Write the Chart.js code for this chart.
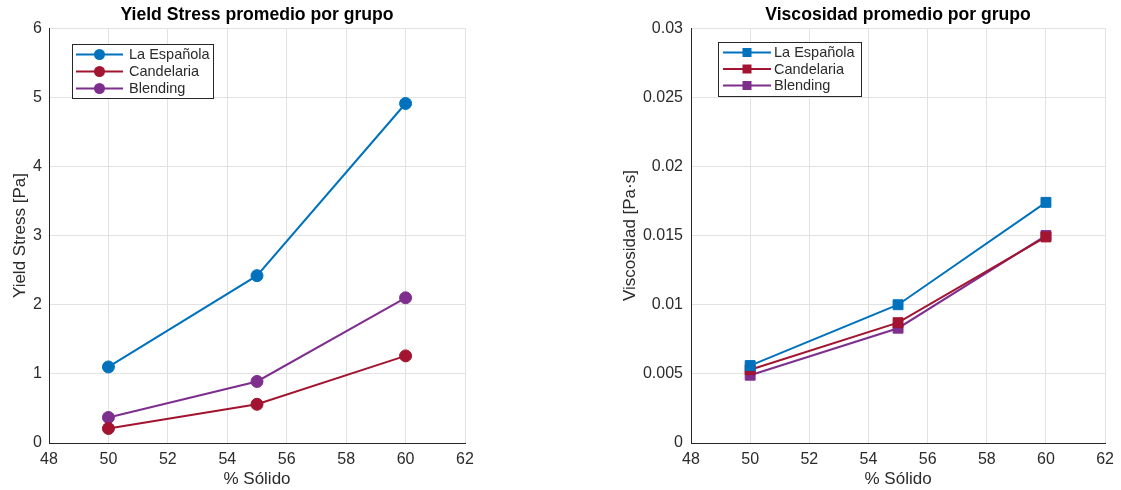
<!DOCTYPE html>
<html>
<head>
<meta charset="utf-8">
<script src="https://cdn.jsdelivr.net/npm/chart.js@4.4.0/dist/chart.umd.min.js"></script>
<style>
  body { margin: 0; background: #fff; width: 1121px; height: 490px; position: relative; overflow: hidden; }
  .panel { position: absolute; top: 0; height: 490px; }
  #panel-yield { left: 0; width: 560px; }
  #panel-visc { left: 600px; width: 521px; }
</style>
</head>
<body>
<div class="panel" id="panel-yield"><canvas id="yieldChart" width="560" height="490"></canvas></div>
<div class="panel" id="panel-visc"><canvas id="viscChart" width="521" height="490"></canvas></div>
<script>
// % sólido de cada ensayo
const solidos = [50, 55, 60];
const grupos = ['La Española', 'Candelaria', 'Blending'];
const colores = ['#0072BD', '#A2142F', '#7E2F8E'];

// yield stress promedio [Pa]
const yieldEspanola = [1.10, 2.42, 4.91];
const yieldCandelaria = [0.21, 0.56, 1.26];
const yieldBlending = [0.37, 0.89, 2.10];

// viscosidad promedio [Pa·s]
const viscEspanola = [0.0056, 0.0100, 0.0174];
const viscCandelaria = [0.0053, 0.0087, 0.0149];
const viscBlending = [0.0049, 0.0083, 0.0150];

const xTicks = ['48', '50', '52', '54', '56', '58', '60', '62'];
const yTicksYield = ['0', '1', '2', '3', '4', '5', '6'];
const yTicksVisc = ['0', '0.005', '0.01', '0.015', '0.02', '0.025', '0.03'];

const FONT = "'Liberation Sans', Arial, sans-serif";
const TXT = '#2b2b2b';

// leyenda tipo matlab, dentro del area de la grafica
const leyendaBox = {
  id: 'leyendaBox',
  afterDraw(chart, args, o) {
    const { ctx, chartArea } = chart;
    const x0 = Math.round(chartArea.left + o.dx), y0 = Math.round(chartArea.top + o.dy);
    ctx.save();
    ctx.fillStyle = '#fff';
    ctx.fillRect(x0, y0, o.w, o.h);
    ctx.strokeStyle = '#262626';
    ctx.lineWidth = 1;
    ctx.strokeRect(x0 + 0.5, y0 + 0.5, o.w, o.h);
    ctx.font = '14.5px ' + FONT;
    ctx.textBaseline = 'middle';
    chart.data.datasets.forEach((ds, i) => {
      const cy = y0 + o.first + i * o.row;
      ctx.strokeStyle = ds.borderColor;
      ctx.lineWidth = 2;
      ctx.beginPath();
      ctx.moveTo(x0 + o.lineStart, cy);
      ctx.lineTo(x0 + o.lineEnd, cy);
      ctx.stroke();
      const mx = x0 + o.marker;
      ctx.fillStyle = ds.backgroundColor;
      if (ds.pointStyle === 'rect') {
        ctx.fillRect(mx - o.size, cy - o.size, o.size * 2, o.size * 2);
      } else {
        ctx.beginPath();
        ctx.arc(mx, cy, o.size, 0, Math.PI * 2);
        ctx.fill();
      }
      ctx.fillStyle = TXT;
      ctx.fillText(ds.label, x0 + o.text, cy + 0.5);
    });
    ctx.restore();
  }
};

function buildChart(id, cfg) {
  return new Chart(document.getElementById(id), {
    type: 'line',
    data: {
      datasets: grupos.map((g, i) => ({
        label: g,
        data: solidos.map((s, j) => ({ x: s, y: cfg.series[i][j] })),
        borderColor: colores[i],
        backgroundColor: colores[i],
        borderWidth: 2,
        pointStyle: cfg.marker,
        pointRadius: cfg.radius,
        pointHoverRadius: cfg.radius,
        pointBorderWidth: 1,
        tension: 0
      }))
    },
    options: {
      responsive: false,
      devicePixelRatio: 1,
      animation: false,
      layout: { padding: { left: 0, right: cfg.padRight, top: 0, bottom: 0 } },
      scales: {
        x: {
          type: 'linear', min: 48, max: 62,
          ticks: {
            stepSize: 2, padding: 7, color: TXT, font: { family: FONT, size: 16 },
            callback: (v, i) => xTicks[i]
          },
          grid: { color: '#e2e2e2', drawTicks: false },
          border: { color: '#262626', width: 1 },
          title: { display: true, text: '% Sólido', color: TXT, font: { family: FONT, size: 17 }, padding: { top: 0, bottom: 0 } },
          afterFit(s) { s.height = 47; }
        },
        y: {
          min: 0, max: cfg.yMax,
          ticks: {
            stepSize: cfg.yStep, padding: cfg.tickPad, color: TXT, font: { family: FONT, size: 16 },
            callback: (v, i) => cfg.yTicks[i]
          },
          grid: { color: '#e2e2e2', drawTicks: false },
          border: { color: '#262626', width: 1 },
          title: { display: true, text: cfg.yTitle, color: TXT, font: { family: FONT, size: 17 }, padding: { top: cfg.titlePad, bottom: 0 } },
          afterFit(s) { s.width = cfg.yWidth; }
        }
      },
      plugins: {
        legend: { display: false },
        tooltip: { enabled: false },
        title: {
          display: true, text: cfg.title, fullSize: false, color: '#000',
          font: { family: FONT, size: 17.6, weight: 'bold' },
          padding: { top: 5, bottom: 2 }
        },
        leyendaBox: cfg.legend
      }
    },
    plugins: [leyendaBox]
  });
}

buildChart('yieldChart', {
  series: [yieldEspanola, yieldCandelaria, yieldBlending],
  title: 'Yield Stress promedio por grupo',
  yTitle: 'Yield Stress [Pa]',
  yTicks: yTicksYield, yMax: 6, yStep: 1,
  marker: 'circle', radius: 6,
  yWidth: 49, tickPad: 7, titlePad: 10, padRight: 95,
  legend: { dx: 23, dy: 16, w: 141, h: 54, first: 10.5, row: 17, lineStart: 4, lineEnd: 51, marker: 27.5, text: 57, size: 5.5 }
});

buildChart('viscChart', {
  series: [viscEspanola, viscCandelaria, viscBlending],
  title: 'Viscosidad promedio por grupo',
  yTitle: 'Viscosidad [Pa·s]',
  yTicks: yTicksVisc, yMax: 0.03, yStep: 0.005,
  marker: 'rect', radius: 7,
  yWidth: 91, tickPad: 8, titlePad: 20, padRight: 14,
  legend: { dx: 27, dy: 14, w: 143, h: 54, first: 10.5, row: 16.5, lineStart: 5, lineEnd: 53, marker: 29, text: 56, size: 4.5 }
});
</script>
</body>
</html>
